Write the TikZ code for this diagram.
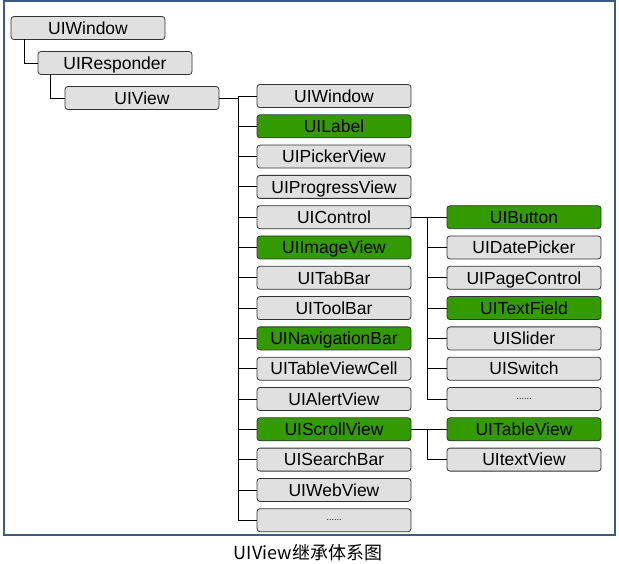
\documentclass[tikz,border=0pt]{standalone}
\usepackage{fontspec}
\setmainfont{Liberation Sans}
\newfontfamily\cjkfont{Noto Sans CJK SC}
\definecolor{BoxGrey}{HTML}{E0E0E0}
\definecolor{BoxGreen}{HTML}{339A00}
\definecolor{EdgeGrey}{HTML}{333333}
\definecolor{FrameBlue}{HTML}{3B5B86}
\usetikzlibrary{positioning}

\begin{document}
\begin{tikzpicture}[
    x=1pt, y=-1pt,
    node distance=7.3pt and 36pt,
    cls/.style={
      rectangle, rounded corners=3pt,
      draw=EdgeGrey, fill=BoxGrey, line width=0.8pt,
      minimum width=154pt, minimum height=23pt,
      inner sep=0pt, outer sep=0pt,
      text height=14pt, text depth=1.5pt,
      font=\fontsize{17.5}{18}\selectfont
    },
    hot/.style={cls, fill=BoxGreen},
    more/.style={cls, text height=1.5pt, text depth=0pt, font=\fontsize{9}{9}\selectfont},
    link/.style={line width=0.8pt, black}
  ]
    \useasboundingbox (0,0) rectangle (619,564);
    \draw[FrameBlue, line width=1.2pt] (4,1) rectangle (615,535);

    % base chain
    \node[cls] (window) at (88,28) {UIWindow};
    \node[cls] (responder) at (115,63) {UIResponder};
    \node[cls] (view) at (142,98) {UIView};

    % UIView subclasses
    \node[cls] (vwindow) at (334,96) {UIWindow};
    \node[hot, below=of vwindow] (label) {UILabel};
    \node[cls, below=of label] (picker) {UIPickerView};
    \node[cls, below=of picker] (progress) {UIProgressView};
    \node[cls, below=of progress] (control) {UIControl};
    \node[hot, below=of control] (image) {UIImageView};
    \node[cls, below=of image] (tabbar) {UITabBar};
    \node[cls, below=of tabbar] (toolbar) {UIToolBar};
    \node[hot, below=of toolbar] (navbar) {UINavigationBar};
    \node[cls, below=of navbar] (cell) {UITableViewCell};
    \node[cls, below=of cell] (alert) {UIAlertView};
    \node[hot, below=of alert] (scroll) {UIScrollView};
    \node[cls, below=of scroll] (search) {UISearchBar};
    \node[cls, below=of search] (web) {UIWebView};
    \node[more, below=of web] (vmore) {......};

    % UIControl subclasses
    \node[hot, right=of control] (button) {UIButton};
    \node[cls, below=of button] (date) {UIDatePicker};
    \node[cls, below=of date] (page) {UIPageControl};
    \node[hot, below=of page] (field) {UITextField};
    \node[cls, below=of field] (slider) {UISlider};
    \node[cls, below=of slider] (switch) {UISwitch};
    \node[more, below=of switch] (cmore) {......};

    % UIScrollView subclasses
    \node[hot, right=of scroll] (table) {UITableView};
    \node[cls, below=of table] (text) {UItextView};

    \draw[link] ([xshift=13pt]window.south west) |- (responder.west);
    \draw[link] ([xshift=12pt]responder.south west) |- (view.west);
    \foreach \c in {vwindow,label,picker,progress,control,image,tabbar,
        toolbar,navbar,cell,alert,scroll,search,web,vmore}
      \draw[link] (view.east) -- ++(19,0) |- (\c.west);
    \foreach \c in {button,date,page,field,slider,switch,cmore}
      \draw[link] (control.east) -- ++(16,0) |- (\c.west);
    \foreach \c in {table,text}
      \draw[link] (scroll.east) -- ++(16,0) |- (\c.west);

    \node[font=\cjkfont\fontsize{18}{18}\selectfont] (caption) at (308,553) {UIView继承体系图};
  \end{tikzpicture}
\end{document}
